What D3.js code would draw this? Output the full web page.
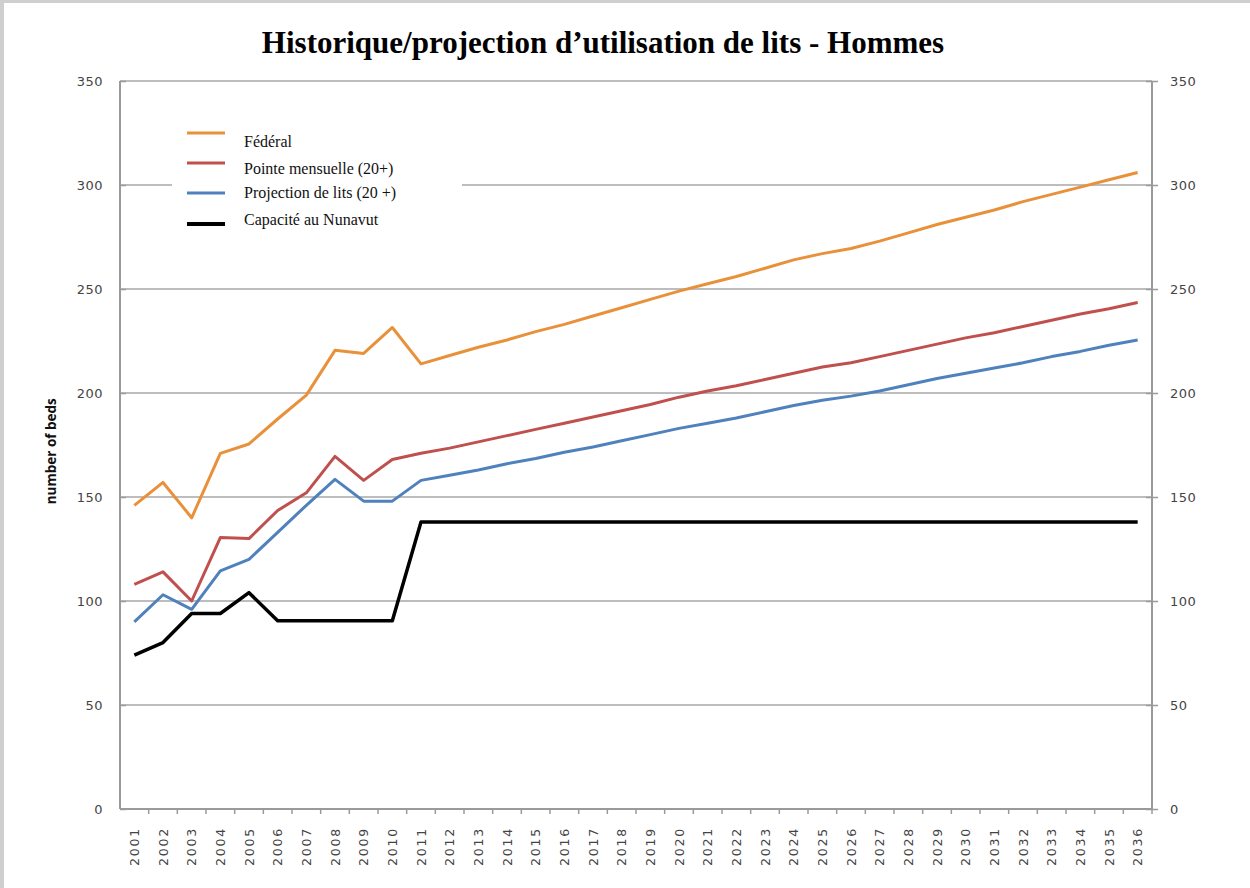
<!DOCTYPE html>
<html>
<head>
<meta charset="utf-8">
<script src="https://cdn.jsdelivr.net/npm/d3@7"></script>
<style>
  body { margin: 0; background: #fff; }
  svg { display: block; }
</style>
</head>
<body>
<div id="viz"></div>
<script>
// chart data
var years = ["2001","2002","2003","2004","2005","2006","2007","2008","2009","2010",
  "2011","2012","2013","2014","2015","2016","2017","2018","2019","2020",
  "2021","2022","2023","2024","2025","2026","2027","2028","2029","2030",
  "2031","2032","2033","2034","2035","2036"];

var federal = [146,157,140,171,175.5,187.5,199,220.5,219,231.5,
  214,218,222,225.5,229.5,233,237,241,245,249,
  252.5,256,260,264,267,269.5,273,277,281,284.5,
  288,292,295.5,299,302.5,306];

var pointeMensuelle = [108,114,100,130.5,130,143.5,152,169.5,158,168,
  171,173.5,176.5,179.5,182.5,185.5,188.5,191.5,194.5,198,
  201,203.5,206.5,209.5,212.5,214.5,217.5,220.5,223.5,226.5,
  229,232,235,238,240.5,243.5];

var projectionLits = [90,103,96,114.5,120,133,146,158.5,148,148,
  158,160.5,163,166,168.5,171.5,174,177,180,183,
  185.5,188,191,194,196.5,198.5,201,204,207,209.5,
  212,214.5,217.5,220,223,225.5];

var capacite = [74,80,94,94,104,90.5,90.5,90.5,90.5,90.5,
  138,138,138,138,138,138,138,138,138,138,
  138,138,138,138,138,138,138,138,138,138,
  138,138,138,138,138,138];

var yTicks = [0,50,100,150,200,250,300,350];

var seriesNames = ["Fédéral","Pointe mensuelle (20+)","Projection de lits (20 +)","Capacité au Nunavut"];
var seriesColors = ["#e8913a","#c0504d","#4f81bd","#000000"];

var width = 1250, height = 888;
var margin = {top: 81, right: 98, bottom: 79, left: 120};

var svg = d3.select("#viz")
  .append("svg")
    .attr("width", width)
    .attr("height", height);

// screenshot frame (left + top)
svg.append("rect").attr("x", 0).attr("y", 0).attr("width", 4).attr("height", height).attr("fill", "#cfcfcf");
svg.append("rect").attr("x", 0).attr("y", 0).attr("width", width).attr("height", 3).attr("fill", "#cfcfcf");

var x = d3.scalePoint()
  .domain(years)
  .range([margin.left, width - margin.right])
  .padding(0.5);

var y = d3.scaleLinear()
  .domain([0, 350])
  .range([height - margin.bottom, margin.top]);

// gridlines
svg.append("g")
  .selectAll("line")
  .data(yTicks.filter(function (d) { return d > 0; }))
  .enter()
  .append("line")
    .attr("x1", margin.left)
    .attr("x2", width - margin.right)
    .attr("y1", function (d) { return y(d); })
    .attr("y2", function (d) { return y(d); })
    .attr("stroke", "#bdbdbd")
    .attr("stroke-width", 2);

// left axis
var leftAxis = svg.append("g")
  .attr("transform", "translate(" + margin.left + ",0)")
  .call(d3.axisLeft(y).tickValues(yTicks).tickSize(6).tickPadding(11));
leftAxis.select(".domain").remove();
leftAxis.selectAll(".tick line").attr("x2", 6);

// right axis
var rightAxis = svg.append("g")
  .attr("transform", "translate(" + (width - margin.right) + ",0)")
  .call(d3.axisRight(y).tickValues(yTicks).tickSize(6).tickPadding(12));
rightAxis.select(".domain").remove();
rightAxis.selectAll(".tick line").attr("x1", -6);

svg.selectAll(".tick line").attr("stroke", "#9a9a9a").attr("stroke-width", 1.5);
svg.selectAll(".tick text")
  .attr("fill", "#444")
  .style("font-family", "'DejaVu Sans', Verdana, sans-serif")
  .style("font-size", "13px")
  .style("letter-spacing", "0.5px");

// vertical axis lines
svg.append("line")
  .attr("x1", margin.left).attr("x2", margin.left)
  .attr("y1", y(350)).attr("y2", y(0))
  .attr("stroke", "#9a9a9a").attr("stroke-width", 2);
svg.append("line")
  .attr("x1", width - margin.right).attr("x2", width - margin.right)
  .attr("y1", y(350)).attr("y2", y(0))
  .attr("stroke", "#9a9a9a").attr("stroke-width", 2);

// x axis
svg.append("line")
  .attr("x1", margin.left).attr("x2", width - margin.right)
  .attr("y1", y(0)).attr("y2", y(0))
  .attr("stroke", "#9a9a9a").attr("stroke-width", 2);

var step = x.step();
svg.append("g")
  .selectAll("line")
  .data(years)
  .enter()
  .append("line")
    .attr("x1", function (d) { return x(d) + step / 2; })
    .attr("x2", function (d) { return x(d) + step / 2; })
    .attr("y1", y(0))
    .attr("y2", y(0) + 5)
    .attr("stroke", "#9a9a9a")
    .attr("stroke-width", 1.5);

svg.append("g")
  .selectAll("text")
  .data(years)
  .enter()
  .append("text")
    .text(function (d) { return d; })
    .attr("transform", function (d) { return "translate(" + (x(d) + 4.5) + "," + (y(0) + 18) + ") rotate(-90)"; })
    .attr("text-anchor", "end")
    .attr("fill", "#444")
    .style("font-family", "'DejaVu Sans', Verdana, sans-serif")
    .style("font-size", "12.5px")
    .style("letter-spacing", "1.8px");

// y axis title
svg.append("text")
  .text("number of beds")
  .attr("transform", "translate(56," + y(172) + ") rotate(-90)")
  .attr("text-anchor", "middle")
  .attr("fill", "#111")
  .style("font-family", "'Liberation Sans Narrow', 'Open Sans', sans-serif")
  .style("font-size", "13.5px")
  .style("font-weight", "bold");

// title
svg.append("text")
  .text("Historique/projection d’utilisation de lits - Hommes")
  .attr("x", 603)
  .attr("y", 53)
  .attr("text-anchor", "middle")
  .attr("fill", "#000")
  .style("font-family", "'Liberation Serif', 'DejaVu Serif', serif")
  .style("font-size", "31px")
  .style("font-weight", "bold");

// lines
var allSeries = [federal, pointeMensuelle, projectionLits, capacite];
var line = d3.line()
  .x(function (d, i) { return x(years[i]); })
  .y(function (d) { return y(d); });

svg.append("g")
  .selectAll("path")
  .data(allSeries)
  .enter()
  .append("path")
    .attr("d", line)
    .attr("fill", "none")
    .attr("stroke", function (d, i) { return seriesColors[i]; })
    .attr("stroke-width", function (d, i) { return i === 3 ? 3.5 : 3; })
    .attr("stroke-linejoin", "round");

// legend
var legend = svg.append("g");
legend.append("rect")
  .attr("x", 172).attr("y", 116)
  .attr("width", 290).attr("height", 122)
  .attr("fill", "#fff");

var legendLineY = [133, 163, 193, 224];
var legendTextY = [147, 174, 198, 225];
var rows = legend.selectAll("g.row")
  .data(seriesNames)
  .enter()
  .append("g")
    .attr("class", "row");
rows.append("line")
  .attr("x1", 187).attr("x2", 225)
  .attr("y1", function (d, i) { return legendLineY[i]; })
  .attr("y2", function (d, i) { return legendLineY[i]; })
  .attr("stroke", function (d, i) { return seriesColors[i]; })
  .attr("stroke-width", function (d, i) { return i === 3 ? 4 : 3; });
rows.append("text")
  .text(function (d) { return d; })
  .attr("x", 244)
  .attr("y", function (d, i) { return legendTextY[i]; })
  .attr("fill", "#111")
  .style("font-family", "'Liberation Serif', 'DejaVu Serif', serif")
  .style("font-size", "16px");
</script>
</body>
</html>
